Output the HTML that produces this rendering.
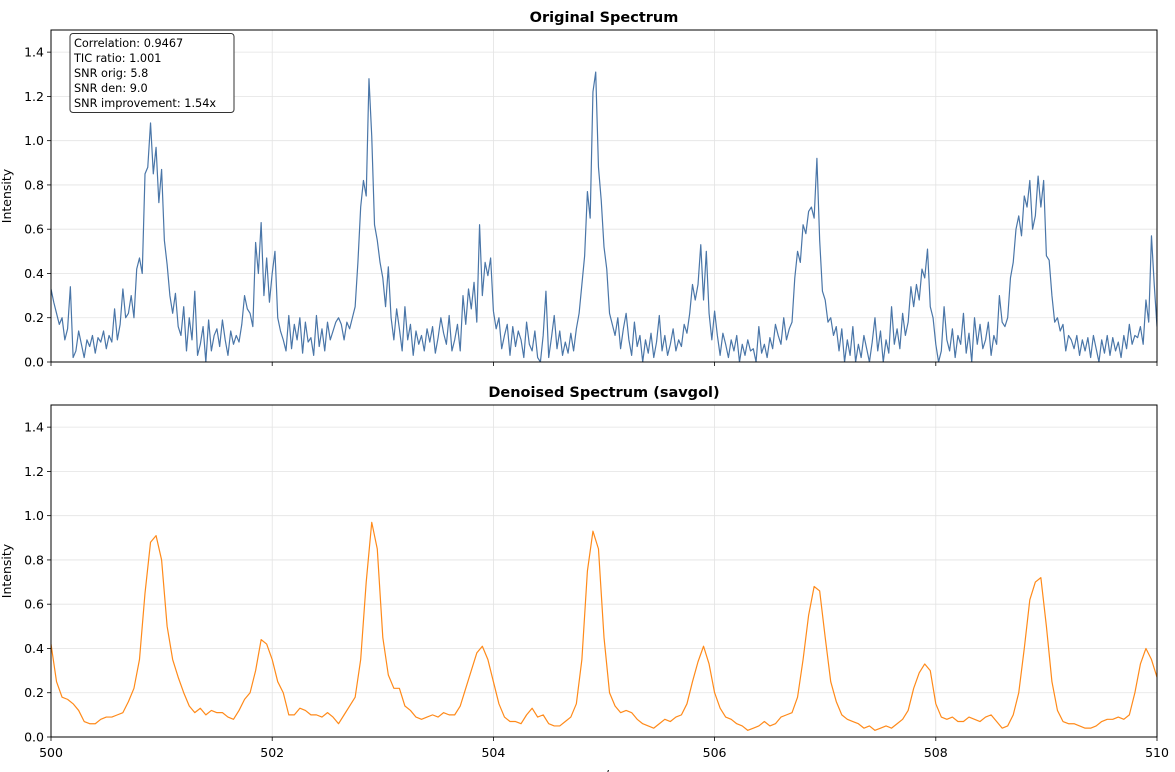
<!DOCTYPE html>
<html><head><meta charset="utf-8"><style>
body{margin:0;background:#fff}
svg{display:block;font-family:"DejaVu Sans","Liberation Sans",sans-serif}
</style></head><body>
<svg id="fig" width="1175" height="772" viewBox="0 0 1175 772" xmlns="http://www.w3.org/2000/svg">
<rect width="1175" height="772" fill="#fff"/>
</svg>
<script>
const xTicks=[500,502,504,506,508,510];
const yTicks=[0.0,0.2,0.4,0.6,0.8,1.0,1.2,1.4];
const yTickLabels=["0.0","0.2","0.4","0.6","0.8","1.0","1.2","1.4"];
const statsLines=["Correlation: 0.9467","TIC ratio: 1.001","SNR orig: 5.8","SNR den: 9.0","SNR improvement: 1.54x"];
const original=[
0.33,0.27,0.22,0.17,0.20,0.10,0.15,0.34,0.02,0.05,0.14,0.08,0.02,0.10,0.07,0.12,0.04,0.11,0.09,0.14,0.06,0.12,0.09,0.24,0.10,0.17,0.33,0.20,0.22,0.30,0.20,0.42,0.47,0.40,0.85,0.88,1.08,0.85,0.97,0.72,
0.87,0.55,0.44,0.30,0.22,0.31,0.16,0.12,0.25,0.05,0.20,0.10,0.32,0.03,0.08,0.16,0.00,0.19,0.05,0.12,0.15,0.07,0.19,0.10,0.03,0.14,0.08,0.12,0.09,0.17,0.30,0.24,0.22,0.16,0.54,0.40,0.63,0.30,0.47,0.27,
0.40,0.50,0.20,0.14,0.10,0.05,0.21,0.06,0.17,0.10,0.20,0.04,0.18,0.09,0.11,0.03,0.21,0.07,0.15,0.05,0.18,0.10,0.14,0.18,0.20,0.17,0.10,0.18,0.15,0.20,0.25,0.45,0.70,0.82,0.75,1.28,1.02,0.62,0.55,0.45,
0.38,0.25,0.43,0.20,0.10,0.24,0.15,0.05,0.25,0.10,0.17,0.03,0.14,0.08,0.12,0.05,0.15,0.09,0.16,0.04,0.11,0.20,0.13,0.08,0.21,0.05,0.10,0.17,0.05,0.30,0.17,0.33,0.24,0.36,0.18,0.62,0.30,0.45,0.39,0.47,
0.23,0.15,0.20,0.06,0.12,0.17,0.03,0.16,0.07,0.14,0.10,0.02,0.18,0.08,0.05,0.14,0.02,0.00,0.12,0.32,0.02,0.11,0.21,0.06,0.14,0.03,0.09,0.04,0.13,0.05,0.15,0.22,0.35,0.48,0.77,0.65,1.22,1.31,0.88,0.73,
0.52,0.42,0.22,0.17,0.12,0.20,0.06,0.15,0.22,0.10,0.03,0.18,0.07,0.12,0.00,0.10,0.04,0.13,0.02,0.09,0.21,0.05,0.12,0.03,0.08,0.15,0.05,0.10,0.07,0.17,0.13,0.22,0.35,0.28,0.35,0.53,0.28,0.50,0.22,0.10,
0.23,0.12,0.03,0.13,0.08,0.02,0.10,0.05,0.12,0.00,0.08,0.03,0.10,0.05,0.06,0.00,0.16,0.04,0.08,0.02,0.11,0.06,0.17,0.12,0.08,0.20,0.10,0.15,0.18,0.38,0.50,0.45,0.62,0.58,0.68,0.70,0.65,0.92,0.55,0.32,
0.28,0.18,0.20,0.12,0.16,0.05,0.15,0.00,0.10,0.03,0.16,0.00,0.08,0.02,0.12,0.06,0.00,0.09,0.20,0.05,0.14,0.00,0.10,0.04,0.25,0.08,0.15,0.06,0.22,0.12,0.18,0.34,0.25,0.35,0.28,0.42,0.38,0.51,0.25,0.20,
0.08,0.00,0.05,0.25,0.10,0.05,0.15,0.02,0.12,0.08,0.22,0.04,0.13,0.00,0.20,0.08,0.17,0.06,0.10,0.18,0.03,0.12,0.08,0.30,0.18,0.16,0.20,0.38,0.45,0.60,0.66,0.57,0.75,0.70,0.82,0.60,0.66,0.84,0.70,0.82,
0.48,0.46,0.30,0.18,0.20,0.14,0.17,0.05,0.12,0.10,0.06,0.12,0.03,0.10,0.05,0.11,0.02,0.12,0.06,0.00,0.10,0.04,0.12,0.03,0.11,0.05,0.09,0.02,0.12,0.06,0.17,0.08,0.12,0.11,0.16,0.08,0.28,0.18,0.57,0.35,
0.16];
const denoised=[
0.42,0.25,0.18,0.17,0.15,0.12,0.07,0.06,0.06,0.08,0.09,0.09,0.10,0.11,0.16,0.22,0.35,0.65,0.88,0.91,
0.80,0.50,0.35,0.27,0.20,0.14,0.11,0.13,0.10,0.12,0.11,0.11,0.09,0.08,0.12,0.17,0.20,0.30,0.44,0.42,
0.35,0.25,0.20,0.10,0.10,0.13,0.12,0.10,0.10,0.09,0.11,0.09,0.06,0.10,0.14,0.18,0.35,0.70,0.97,0.85,
0.45,0.28,0.22,0.22,0.14,0.12,0.09,0.08,0.09,0.10,0.09,0.11,0.10,0.10,0.14,0.22,0.30,0.38,0.41,0.35,
0.25,0.15,0.09,0.07,0.07,0.06,0.10,0.13,0.09,0.10,0.06,0.05,0.05,0.07,0.09,0.15,0.35,0.75,0.93,0.85,
0.45,0.20,0.14,0.11,0.12,0.11,0.08,0.06,0.05,0.04,0.06,0.08,0.07,0.09,0.10,0.15,0.25,0.34,0.41,0.33,
0.20,0.13,0.09,0.08,0.06,0.05,0.03,0.04,0.05,0.07,0.05,0.06,0.09,0.10,0.11,0.18,0.35,0.55,0.68,0.66,
0.45,0.25,0.16,0.10,0.08,0.07,0.06,0.04,0.05,0.03,0.04,0.05,0.04,0.06,0.08,0.12,0.22,0.29,0.33,0.30,
0.15,0.09,0.08,0.09,0.07,0.07,0.09,0.08,0.07,0.09,0.10,0.07,0.04,0.05,0.10,0.20,0.40,0.62,0.70,0.72,
0.50,0.25,0.12,0.07,0.06,0.06,0.05,0.04,0.04,0.05,0.07,0.08,0.08,0.09,0.08,0.10,0.20,0.33,0.40,0.35,
0.27];
const X0=500,X1=510,Y0=0,Y1=1.5;
const L=51,R=1157;
const svg=document.getElementById('fig');
const NS='http://www.w3.org/2000/svg';
function mk(tag,attrs,parent){const e=document.createElementNS(NS,tag);for(const k in attrs)e.setAttribute(k,attrs[k]);(parent||svg).appendChild(e);return e;}
function xs(v){return L+(v-X0)/(X1-X0)*(R-L);}
function panel(top,bot,title,data,color,name,showXLabels){
  const ys=v=>bot-(v-Y0)/(Y1-Y0)*(bot-top);
  const g=mk('g',{});
  
  
  yTicks.forEach((t,i)=>{
    const gl=mk('line',{x1:L,x2:R,y1:ys(t),y2:ys(t),stroke:'#e3e3e3','stroke-width':0.8},g);
    
    
    mk('line',{x1:L-4,x2:L,y1:ys(t),y2:ys(t),stroke:'#000','stroke-width':0.8},g);
    const tx=mk('text',{x:L-7,y:ys(t)+4.5,'text-anchor':'end','font-size':12.5,fill:'#000'},g);
    tx.textContent=yTickLabels[i];
    
    
  });
  xTicks.forEach(t=>{
    const gl=mk('line',{x1:xs(t),x2:xs(t),y1:top,y2:bot,stroke:'#e3e3e3','stroke-width':0.8},g);
    
    
    mk('line',{x1:xs(t),x2:xs(t),y1:bot,y2:bot+4,stroke:'#000','stroke-width':0.8},g);
    if(showXLabels){
      const tx=mk('text',{x:xs(t),y:bot+20,'text-anchor':'middle','font-size':12.5,fill:'#000'},g);
      tx.textContent=String(t);
      
      
    }
  });
  const n=data.length;
  let d='';
  data.forEach((v,i)=>{const x=X0+(X1-X0)*i/(n-1);d+=(i?'L':'M')+xs(x).toFixed(2)+' '+ys(Math.max(Y0,v)).toFixed(2);});
  const cp=mk('clipPath',{id:'clip-'+name},g);
  mk('rect',{x:L,y:top,width:R-L,height:bot-top},cp);
  const p=mk('path',{d:d,fill:'none',stroke:color,'stroke-width':1.2,'stroke-linejoin':'round','clip-path':'url(#clip-'+name+')'},g);
  
  
  const fr=mk('rect',{x:L,y:top,width:R-L,height:bot-top,fill:'none',stroke:'#000','stroke-width':1},g);
  
  
  const tt=mk('text',{x:(L+R)/2,y:top-8,'text-anchor':'middle','font-size':14.5,'font-weight':'bold',fill:'#000'},g);
  tt.textContent=title;
  
  
  const yl=mk('text',{x:0,y:0,'text-anchor':'middle','font-size':12.5,fill:'#000',transform:'translate(11,'+((top+bot)/2)+') rotate(-90)'},g);
  yl.textContent='Intensity';
  
  
  return ys;
}
panel(30,362,'Original Spectrum',original,'#4a76a8','original',false);
panel(405,737,'Denoised Spectrum (savgol)',denoised,'#ff8a1a','denoised',true);
const xl=mk('text',{x:(L+R)/2,y:779,'text-anchor':'middle','font-size':12.5,fill:'#000'});
xl.textContent='m/z';


const box=mk('g',{});


mk('rect',{x:70,y:33.5,width:164,height:79,rx:3,fill:'#fff',stroke:'#333','stroke-width':1},box);
statsLines.forEach((s,i)=>{
  const t=mk('text',{x:74,y:47+i*15,'font-size':11.3,fill:'#000'},box);
  t.textContent=s;
  
  
});
</script>
</body></html>
